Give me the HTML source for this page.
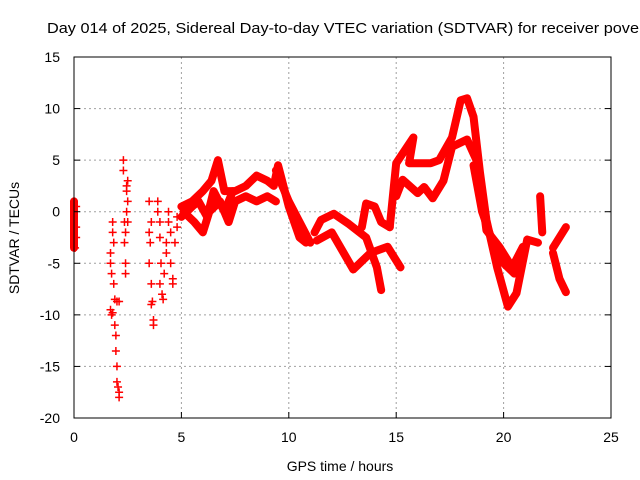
<!DOCTYPE html>
<html><head><meta charset="utf-8"><style>
body{margin:0;background:#fff}
svg{display:block;font-family:"Liberation Sans",sans-serif}
</style></head><body>
<svg id="c" width="640" height="480">
<text x="47" y="33" font-size="15" textLength="592" lengthAdjust="spacingAndGlyphs">Day 014 of 2025, Sidereal Day-to-day VTEC variation (SDTVAR) for receiver pove</text>
<text x="340" y="471" font-size="14" text-anchor="middle">GPS time / hours</text>
<text transform="translate(19,238) rotate(-90)" font-size="14" text-anchor="middle">SDTVAR / TECUs</text>
<g id="grid"></g><g id="marks"></g><g id="axes"></g>
</svg>
<script>
const xTicks=[0,5,10,15,20,25];
const yTicks=[15,10,5,0,-5,-10,-15,-20];
const trackUpperA=[[5.0,0.5],[5.5,1],[6.0,2],[6.4,3],[6.7,5],[7.0,2],[7.5,2],[8.0,2.5],[8.5,3.5],[9.0,3],[9.3,2.5],[9.5,4.5],[10.0,0.5],[10.5,-2.5],[10.8,-3]];
const trackLowerB=[[5.1,0],[5.6,-1],[6.0,-2],[6.3,0],[6.8,1],[7.2,-1],[7.5,1],[8.0,1.5],[8.5,1],[9.0,1.5],[9.4,1]];
const trackEarlyD=[[5.0,-0.5],[5.5,0.5],[5.8,1],[6.2,-0.5],[6.5,2],[7.0,0],[7.4,2]];
const trackC=[[9.4,4],[10.0,1],[10.5,-1],[11.0,-3]];
const trackMid=[[11.2,-2],[11.5,-0.8],[12.1,-0.2],[12.8,-1.2],[13.6,-2.5],[14.1,-5.4],[14.3,-7.6]];
const trackMid2=[[11.3,-2.8],[12.0,-2.0],[13.0,-5.6],[13.8,-4],[14.6,-3.4],[15.2,-5.4]];
const trackMid3=[[13.4,-1.5],[13.6,0.8],[14.0,0.5],[14.3,-1],[14.7,-1.5]];
const trackPeak=[[14.7,-1.5],[15.0,4.7],[15.8,7.2],[15.6,4.7],[16.6,4.7],[17.0,5],[17.6,7.2],[18.0,10.8],[18.3,11],[18.6,9.2],[18.9,3.8],[19.2,-0.8],[19.7,-5.4],[20.2,-9.2],[20.6,-7.9],[21.1,-2.7],[21.6,-3]];
const trackPeak2=[[15.0,1.5],[15.3,3.1],[16.0,1.8],[16.3,2.4],[16.7,1.3],[17.2,3],[17.6,6.3],[18.3,7],[18.8,4.7],[19.2,-1.8],[19.8,-3.4],[20.4,-5.4],[20.9,-3.4]];
const trackPeak3=[[18.6,4.5],[19.0,0],[19.5,-3],[20.0,-5],[20.5,-6],[20.8,-4]];
const trackLate1=[[21.7,1.5],[21.8,-2]];
const trackLate2=[[22.3,-3.5],[22.9,-1.5]];
const trackLate3=[[22.3,-4],[22.6,-6.5],[22.9,-7.8]];
const trackStart=[[0,1],[0,-3.5]];
const scatterEarly=[[0,1],[0,0],[0,-1],[0,-2],[0,-3],[0.1,0.5],[0.1,-1.5],[0.1,-2.5],[0.05,-3.5],
[1.7,-4],[1.7,-5],[1.75,-6],[1.7,-9.5],[1.75,-10],[1.8,-9.8],[1.8,-1],[1.8,-2],[1.85,-3],[1.85,-7],[1.9,-8.5],[1.9,-11],[1.95,-12],[1.95,-13.5],[2.0,-15],[2.0,-16.5],[2.05,-17],[2.1,-17.5],[2.1,-18],[2.0,-8.7],[2.1,-8.7],
[2.3,5],[2.3,4],[2.35,-1],[2.35,-3],[2.4,-5],[2.4,-6],[2.45,2],[2.5,3],[2.5,1],[2.45,0],[2.5,-1],[2.4,-2],[2.45,2.5],
[3.5,1],[3.5,-2],[3.55,-3],[3.6,-1],[3.5,-5],[3.6,-7],[3.6,-9],[3.7,-10.5],[3.7,-11],[3.65,-8.7],
[3.9,1],[3.9,0],[4.0,-1],[4.0,-2.5],[4.05,-5],[4.0,-7],[4.1,-8],[4.15,-8.5],[4.2,-6],[4.3,-4],[4.3,-3],[4.4,0],[4.4,-1],[4.5,-2],[4.5,-5],[4.6,-7],[4.6,-6.5],[4.7,-3],[4.8,-0.5],[4.8,-1.5]];
const tracks=[trackUpperA,trackLowerB,trackEarlyD,trackC,trackMid,trackMid2,trackMid3,trackPeak,trackPeak2,trackPeak3,trackLate1,trackLate2,trackLate3,trackStart];
const X0=74,X1=611,Y0=418,Y1=57;
const xs=t=>X0+t/25*(X1-X0);
const ys=v=>Y0-(v+20)/35*(Y0-Y1);
const NS="http://www.w3.org/2000/svg";
function mk(tag,attrs,parent){const e=document.createElementNS(NS,tag);for(const k in attrs)e.setAttribute(k,attrs[k]);parent.appendChild(e);return e;}
const grid=document.getElementById('grid'),marks=document.getElementById('marks'),axes=document.getElementById('axes');
xTicks.forEach(t=>{const x=xs(t);
 if(t>0&&t<25){const l=mk('line',{x1:x,x2:x,y1:Y1,y2:Y0,stroke:'#a0a0a0','stroke-dasharray':'2,3'},grid);
 
 }
 const tk=mk('line',{x1:x,x2:x,y1:Y0,y2:Y0-6,stroke:'#000'},axes);
 
 
 const tx=mk('text',{x:x,y:Y0+24,'font-size':14,'text-anchor':'middle'},axes);tx.textContent=t;
 
 
});
yTicks.forEach(v=>{const y=ys(v);
 if(v>-20&&v<15){const l=mk('line',{x1:X0,x2:X1,y1:y,y2:y,stroke:'#a0a0a0','stroke-dasharray':'2,3'},grid);
 
 }
 const tk=mk('line',{x1:X0,x2:X0+6,y1:y,y2:y,stroke:'#000'},axes);
 
 
 const tk2=mk('line',{x1:X1,x2:X1-6,y1:y,y2:y,stroke:'#000'},axes);
 
 
 const tx=mk('text',{x:X0-14,y:y+5,'font-size':14,'text-anchor':'end'},axes);tx.textContent=v;
 
 
});
const fr=mk('rect',{x:X0,y:Y1,width:X1-X0,height:Y0-Y1,fill:'none',stroke:'#000'},axes);


tracks.forEach(tr=>{
 const p=mk('polyline',{points:tr.map(d=>xs(d[0])+','+ys(d[1])).join(' '),fill:'none',stroke:'#f00','stroke-width':8,'stroke-linejoin':'round','stroke-linecap':'round'},marks);
 
 
});
scatterEarly.forEach(d=>{const x=xs(d[0]),y=ys(d[1]);
 const p=mk('path',{d:`M${x-4},${y}H${x+4}M${x},${y-4}V${y+4}`,stroke:'#f00','stroke-width':1.5},marks);
 
 
});
</script>
</body></html>
